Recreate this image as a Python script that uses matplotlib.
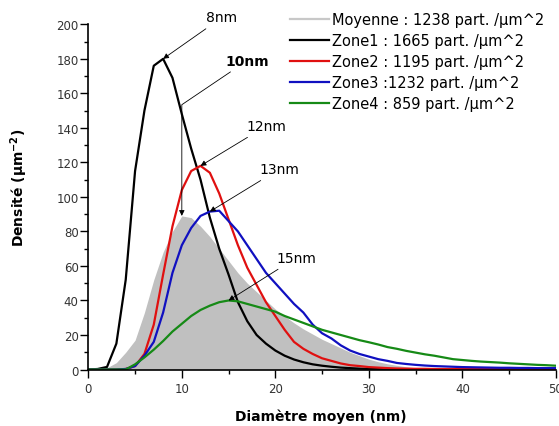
import numpy as np
import matplotlib
matplotlib.use("Agg")
import matplotlib.pyplot as plt
from matplotlib.ticker import MultipleLocator

# diametre (nm)
diam = list(range(0, 51))

moyenne = [0, 0, 1, 4, 10, 17, 33, 52, 68, 80, 89, 88, 83, 77, 70, 63, 56, 50, 45, 40,
           35, 31, 27, 23.5, 20.5, 17.5, 15, 12.5, 10, 8, 6, 4.5, 3.3, 2.4, 1.6, 1, 0.6, 0.4, 0.3, 0.2,
           0.1, 0, 0, 0, 0, 0, 0, 0, 0, 0, 0]
zone1 = [0, 0.3, 1.5, 15, 52, 115, 150, 176, 180, 169, 148, 128, 110, 88, 70, 55, 39, 28, 20, 15,
         11, 8, 5.8, 4.2, 3, 2.2, 1.6, 1.1, 0.8, 0.5, 0.3, 0.2, 0.2, 0.2, 0.2, 0.2, 0.1, 0.1, 0.1, 0.1,
         0.1, 0.1, 0.1, 0.1, 0.1, 0.1, 0.1, 0.1, 0.1, 0.1, 0.1]
zone2 = [0, 0, 0, 0, 0.3, 2, 9, 26, 55, 83, 104, 115, 118, 114, 102, 87, 72, 59, 49, 39,
         31, 23, 16, 12, 9, 6.5, 5, 3.5, 2.5, 2, 1.4, 1.1, 0.8, 0.6, 0.5, 0.4, 0.4, 0.3, 0.3, 0.3,
         0.3, 0.2, 0.2, 0.2, 0.2, 0.2, 0.2, 0.2, 0.2, 0.2, 0.2]
zone3 = [0, 0, 0, 0, 0.3, 2, 8, 16, 33, 56, 72, 82, 89, 91.5, 92, 86, 80, 72, 64, 56,
         50, 44, 38, 33, 26, 21, 18, 14, 11, 9, 7.5, 6, 5, 3.8, 3.2, 2.7, 2.3, 2.0, 1.8, 1.6,
         1.4, 1.3, 1.2, 1.1, 1.0, 1.0, 0.9, 0.9, 0.8, 0.8, 0.8]
zone4 = [0, 0, 0, 0, 0, 3, 7, 11.5, 16.5, 22, 26.5, 31, 34.5, 37, 39, 40, 39.5, 38, 36.5, 35,
         33.5, 31, 29, 27, 25, 23, 21.5, 20, 18.5, 17, 15.8, 14.5, 13, 12, 10.8, 9.8, 8.8, 8, 7, 6,
         5.5, 5, 4.6, 4.3, 4, 3.6, 3.3, 3, 2.7, 2.5, 2.2]

labels = ["Moyenne : 1238 part. /\u00b5m^2", "Zone1 : 1665 part. /\u00b5m^2",
          "Zone2 : 1195 part. /\u00b5m^2", "Zone3 :1232 part. /\u00b5m^2",
          "Zone4 : 859 part. /\u00b5m^2"]
colors = ["#c8c8c8", "black", "#e01010", "#1010c0", "#168a16"]

# pics annotés (zone1, moyenne, zone2, zone3, zone4)
peaks = [8, 10, 12, 13, 15]
peak_txt = ["8nm", "10nm", "12nm", "13nm", "15nm"]
txt_pos = [(14.3, 204), (17.0, 179), (19.0, 141), (20.4, 116), (22.2, 64.6)]

fig = plt.figure(figsize=(5.59, 4.27), dpi=100)
ax = fig.add_axes([0.158, 0.1323, 0.8363, 0.8084])

ax.fill_between(diam, moyenne, 0, color="#c0c0c0", lw=0, zorder=1)
ax.plot([], [], color=colors[0], lw=1.6, label=labels[0])
curves = [zone1, zone2, zone3, zone4]
for c, col, lab in zip(curves, colors[1:], labels[1:]):
    ax.plot(diam, c, color=col, lw=1.6, label=lab, zorder=2)

annot_curves = [zone1, moyenne, zone2, zone3, zone4]
for i, p in enumerate(peaks):
    tip_y = np.interp(p, diam, annot_curves[i])
    cs = "arc3"
    if peak_txt[i] == "10nm":
        cs = "angle,angleA=-146,angleB=90,rad=0"
    ax.annotate(peak_txt[i], xy=(p, tip_y), xytext=txt_pos[i],
                ha="center", va="center", fontsize=10,
                fontweight="bold" if peak_txt[i] == "10nm" else "normal",
                annotation_clip=False,
                arrowprops=dict(arrowstyle="-|>", color="black", lw=0.6,
                                mutation_scale=8, shrinkA=2, shrinkB=0,
                                connectionstyle=cs))

ax.set_xlim(0, 50)
ax.set_ylim(0, 200)
ax.xaxis.set_major_locator(MultipleLocator(10))
ax.xaxis.set_minor_locator(MultipleLocator(5))
ax.yaxis.set_major_locator(MultipleLocator(20))
ax.yaxis.set_minor_locator(MultipleLocator(10))
ax.tick_params(which="major", length=6, width=1, labelsize=8.5, labelcolor="#333333")
ax.tick_params(which="minor", length=3, width=1)
ax.tick_params(axis="y", pad=1)
ax.tick_params(axis="x", pad=3)
for s in ["top", "right"]:
    ax.spines[s].set_visible(False)
for s in ["left", "bottom"]:
    ax.spines[s].set_linewidth(1.2)

ax.set_xlabel("Diamètre moyen (nm)", fontsize=10, fontweight="bold")
ax.set_ylabel("Densité (µm$^{\\mathbf{-2}}$)", fontsize=10, fontweight="bold")
ax.xaxis.set_label_coords(0.498, -0.112)
ax.yaxis.set_label_coords(-0.125, 0.53)

ax.legend(loc="upper left", bbox_to_anchor=(290 / 559, 1 - 13 / 427),
          bbox_transform=fig.transFigure, frameon=False, fontsize=10.5,
          handlelength=2.7, handletextpad=0.15, labelspacing=0.42,
          borderpad=0, borderaxespad=0)

fig.savefig("out.png", dpi=100)
